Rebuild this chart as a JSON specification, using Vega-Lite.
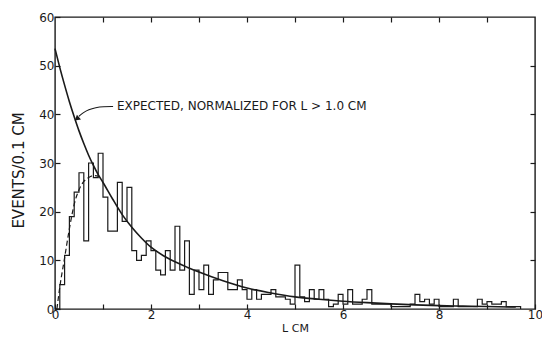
{
  "$schema": "https://vega.github.io/schema/vega-lite/v6.json",
  "width": 480,
  "height": 292,
  "autosize": {"type": "none"},
  "padding": {"left": 55, "top": 17, "right": 7, "bottom": 28},
  "background": "white",
  "config": {
    "view": {"stroke": "#1a1a1a", "strokeWidth": 1.4},
    "font": "DejaVu Sans",
    "axis": {
      "grid": false,
      "domain": false,
      "tickColor": "#1a1a1a",
      "tickWidth": 1.2,
      "labelColor": "#1a1a1a",
      "titleColor": "#1a1a1a",
      "labelFont": "DejaVu Sans",
      "titleFont": "DejaVu Sans",
      "labelFontSize": 12,
      "titleFontWeight": "normal",
      "labelFlush": false,
      "labelOverlap": false
    }
  },
  "layer": [
    {
      "data": {
        "values": [
          {"L": 0.0, "events": 0}, {"L": 0.1, "events": 5}, {"L": 0.2, "events": 11}, {"L": 0.3, "events": 19},
          {"L": 0.4, "events": 24}, {"L": 0.5, "events": 28}, {"L": 0.6, "events": 14}, {"L": 0.7, "events": 30},
          {"L": 0.8, "events": 27}, {"L": 0.9, "events": 32}, {"L": 1.0, "events": 23}, {"L": 1.1, "events": 16},
          {"L": 1.2, "events": 16}, {"L": 1.3, "events": 26}, {"L": 1.4, "events": 18}, {"L": 1.5, "events": 25},
          {"L": 1.6, "events": 12}, {"L": 1.7, "events": 10}, {"L": 1.8, "events": 11}, {"L": 1.9, "events": 14},
          {"L": 2.0, "events": 12}, {"L": 2.1, "events": 8}, {"L": 2.2, "events": 7}, {"L": 2.3, "events": 12},
          {"L": 2.4, "events": 8}, {"L": 2.5, "events": 17}, {"L": 2.6, "events": 8}, {"L": 2.7, "events": 14},
          {"L": 2.8, "events": 3}, {"L": 2.9, "events": 8}, {"L": 3.0, "events": 4}, {"L": 3.1, "events": 9},
          {"L": 3.2, "events": 3}, {"L": 3.3, "events": 6}, {"L": 3.4, "events": 7.5}, {"L": 3.5, "events": 7.5},
          {"L": 3.6, "events": 4}, {"L": 3.7, "events": 4}, {"L": 3.8, "events": 6}, {"L": 3.9, "events": 4},
          {"L": 4.0, "events": 2}, {"L": 4.1, "events": 4}, {"L": 4.2, "events": 2}, {"L": 4.3, "events": 3},
          {"L": 4.4, "events": 3}, {"L": 4.5, "events": 4}, {"L": 4.6, "events": 2.5}, {"L": 4.7, "events": 2.5},
          {"L": 4.8, "events": 2}, {"L": 4.9, "events": 1}, {"L": 5.0, "events": 9}, {"L": 5.1, "events": 2.5},
          {"L": 5.2, "events": 1.5}, {"L": 5.3, "events": 4}, {"L": 5.4, "events": 2}, {"L": 5.5, "events": 4},
          {"L": 5.6, "events": 2}, {"L": 5.7, "events": 0.5}, {"L": 5.8, "events": 1}, {"L": 5.9, "events": 3},
          {"L": 6.0, "events": 1}, {"L": 6.1, "events": 4}, {"L": 6.2, "events": 1}, {"L": 6.3, "events": 1},
          {"L": 6.4, "events": 2}, {"L": 6.5, "events": 4}, {"L": 6.6, "events": 1}, {"L": 6.7, "events": 1},
          {"L": 6.8, "events": 1}, {"L": 6.9, "events": 1}, {"L": 7.0, "events": 0.5}, {"L": 7.1, "events": 0.5},
          {"L": 7.2, "events": 0.5}, {"L": 7.3, "events": 0.5}, {"L": 7.4, "events": 1}, {"L": 7.5, "events": 3},
          {"L": 7.6, "events": 1.5}, {"L": 7.7, "events": 2}, {"L": 7.8, "events": 1}, {"L": 7.9, "events": 2},
          {"L": 8.0, "events": 0.5}, {"L": 8.1, "events": 0.5}, {"L": 8.2, "events": 0.5}, {"L": 8.3, "events": 2},
          {"L": 8.4, "events": 0.5}, {"L": 8.5, "events": 0.5}, {"L": 8.6, "events": 0.5}, {"L": 8.7, "events": 0.5},
          {"L": 8.8, "events": 2}, {"L": 8.9, "events": 1}, {"L": 9.0, "events": 1.5}, {"L": 9.1, "events": 1},
          {"L": 9.2, "events": 1}, {"L": 9.3, "events": 1.5}, {"L": 9.4, "events": 0.5}, {"L": 9.5, "events": 0.5},
          {"L": 9.6, "events": 0.5}, {"L": 9.7, "events": 0}
        ]
      },
      "mark": {"type": "line", "interpolate": "step-after", "stroke": "#1a1a1a", "strokeWidth": 1.2},
      "encoding": {
        "x": {
          "field": "L", "type": "quantitative",
          "scale": {"domain": [0, 10], "nice": false, "zero": false},
          "axis": {
            "orient": "bottom",
            "values": [0, 1, 2, 3, 4, 5, 6, 7, 8, 9, 10],
            "labelExpr": "datum.value % 2 === 0 ? datum.label : ''",
            "tickSize": -5,
            "labelPadding": 5,
            "title": "L  CM",
            "titleFontSize": 11,
            "titlePadding": 2
          }
        },
        "y": {
          "field": "events", "type": "quantitative",
          "scale": {"domain": [0, 60], "nice": false},
          "axis": {
            "orient": "left",
            "values": [0, 10, 20, 30, 40, 50, 60],
            "tickSize": -5,
            "labelPadding": 6,
            "title": "EVENTS/0.1 CM",
            "titleFontSize": 15,
            "titlePadding": 12,
            "titleY": 153
          }
        }
      }
    },
    {
      "data": {
        "values": [
          {"L": 0.0, "events": 53.5}, {"L": 0.1, "events": 49.6}, {"L": 0.2, "events": 46.0}, {"L": 0.3, "events": 42.6},
          {"L": 0.4, "events": 39.5}, {"L": 0.5, "events": 36.6}, {"L": 0.6, "events": 34.0}, {"L": 0.7, "events": 31.6},
          {"L": 0.8, "events": 29.5}, {"L": 0.9, "events": 27.6}, {"L": 1.0, "events": 26.0}, {"L": 1.2, "events": 22.6},
          {"L": 1.4, "events": 19.4}, {"L": 1.6, "events": 16.8}, {"L": 1.8, "events": 14.6}, {"L": 2.0, "events": 12.7},
          {"L": 2.25, "events": 11.0}, {"L": 2.5, "events": 9.7}, {"L": 2.75, "events": 8.6}, {"L": 3.0, "events": 7.6},
          {"L": 3.5, "events": 5.8}, {"L": 4.0, "events": 4.3}, {"L": 4.5, "events": 3.3}, {"L": 5.0, "events": 2.5},
          {"L": 5.5, "events": 2.0}, {"L": 6.0, "events": 1.6}, {"L": 6.5, "events": 1.3}, {"L": 7.0, "events": 1.05},
          {"L": 7.5, "events": 0.85}, {"L": 8.0, "events": 0.7}, {"L": 8.5, "events": 0.6}, {"L": 9.0, "events": 0.5},
          {"L": 9.6, "events": 0.4}
        ]
      },
      "mark": {"type": "line", "interpolate": "monotone", "stroke": "#1a1a1a", "strokeWidth": 1.6},
      "encoding": {
        "x": {
          "field": "L", "type": "quantitative",
          "axis": {"orient": "top", "values": [1, 2, 3, 4, 5, 6, 7, 8, 9], "labels": false, "title": null, "tickSize": -5}
        },
        "y": {
          "field": "events", "type": "quantitative",
          "axis": {"orient": "right", "values": [10, 20, 30, 40, 50], "labels": false, "title": null, "tickSize": -5}
        }
      }
    },
    {
      "data": {
        "values": [
          {"L": 0.04, "events": 0}, {"L": 0.1, "events": 4.5}, {"L": 0.2, "events": 10.5}, {"L": 0.3, "events": 16.5},
          {"L": 0.4, "events": 21.5}, {"L": 0.5, "events": 24.5}, {"L": 0.6, "events": 26.2}, {"L": 0.7, "events": 27.0},
          {"L": 0.8, "events": 27.4}, {"L": 0.9, "events": 27.3}, {"L": 0.95, "events": 26.9}
        ]
      },
      "mark": {"type": "line", "interpolate": "monotone", "stroke": "#1a1a1a", "strokeWidth": 1.2, "strokeDash": [5, 3]},
      "encoding": {
        "x": {"field": "L", "type": "quantitative", "axis": null},
        "y": {"field": "events", "type": "quantitative", "axis": null}
      }
    },
    {
      "data": {
        "values": [
          {"step": 1, "L": 1.21, "events": 41.6}, {"step": 2, "L": 1.0, "events": 41.6},
          {"step": 3, "L": 0.85, "events": 41.4}, {"step": 4, "L": 0.7, "events": 41.0},
          {"step": 5, "L": 0.58, "events": 40.3}, {"step": 6, "L": 0.5, "events": 39.6}
        ]
      },
      "mark": {"type": "line", "interpolate": "basis", "stroke": "#1a1a1a", "strokeWidth": 1.1},
      "encoding": {
        "x": {"field": "L", "type": "quantitative", "axis": null},
        "y": {"field": "events", "type": "quantitative", "axis": null},
        "order": {"field": "step", "type": "quantitative"}
      }
    },
    {
      "data": {"values": [{"L": 0.47, "events": 39.2}]},
      "mark": {"type": "point", "shape": "triangle", "filled": true, "size": 40, "angle": 230, "color": "#1a1a1a", "opacity": 1},
      "encoding": {
        "x": {"field": "L", "type": "quantitative", "axis": null},
        "y": {"field": "events", "type": "quantitative", "axis": null}
      }
    },
    {
      "data": {"values": [{"L": 1.29, "events": 41.8, "note": "EXPECTED, NORMALIZED FOR L > 1.0 CM"}]},
      "mark": {"type": "text", "align": "left", "baseline": "middle", "fontSize": 12, "font": "DejaVu Sans", "color": "#1a1a1a"},
      "encoding": {
        "x": {"field": "L", "type": "quantitative", "axis": null},
        "y": {"field": "events", "type": "quantitative", "axis": null},
        "text": {"field": "note"}
      }
    }
  ],
  "resolve": {"axis": {"x": "independent", "y": "independent"}}
}
